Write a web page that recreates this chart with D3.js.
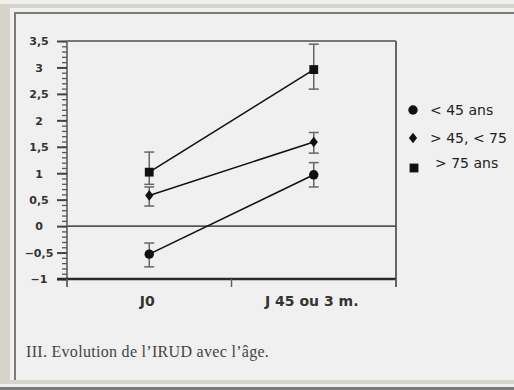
<!DOCTYPE html>
<html>
<head>
<meta charset="utf-8">
<script src="https://cdn.jsdelivr.net/npm/d3@7"></script>
<style>
  html, body { margin: 0; padding: 0; background: #efefee; }
  svg { display: block; }
</style>
</head>
<body>
<div id="chart"></div>
<script>

// data
var categories = ["J0", "J 45 ou 3 m."];
var seriesNames = ["< 45 ans", "> 45, < 75", "> 75 ans"];
var seriesShapes = ["circle", "diamond", "square"];
var meanValues = [[-0.53, 0.97], [0.58, 1.59], [1.02, 2.96]];
var upperValues = [[-0.32, 1.20], [0.74, 1.77], [1.40, 3.44]];
var lowerValues = [[-0.77, 0.74], [0.38, 1.38], [0.79, 2.59]];
var yTicks = [-1, -0.5, 0, 0.5, 1, 1.5, 2, 2.5, 3, 3.5];
var caption = "III. Evolution de l\u2019IRUD avec l\u2019\u00e2ge.";

var W = 514, H = 390;

var svg = d3.select("#chart").append("svg")
    .attr("width", W)
    .attr("height", H);

// page frame (scanned page look)
svg.append("rect").attr("x", 0).attr("y", 0).attr("width", W).attr("height", H).attr("fill", "#d6d3cb");
svg.append("rect").attr("x", 0).attr("y", 0).attr("width", W).attr("height", 4).attr("fill", "#efefee");
svg.append("rect").attr("x", 10).attr("y", 8).attr("width", W - 10).attr("height", 372).attr("fill", "#efefee");
svg.append("rect").attr("x", 0).attr("y", 384).attr("width", W).attr("height", 3).attr("fill", "#efefee");
svg.append("rect").attr("x", 14).attr("y", 12).attr("width", W - 14).attr("height", 368).attr("fill", "#7a7a7a");
svg.append("rect").attr("x", 16).attr("y", 14).attr("width", W - 16).attr("height", 366).attr("fill", "#f0f0f0");
svg.append("rect").attr("x", 0).attr("y", 387).attr("width", W).attr("height", 3).attr("fill", "#7a7a7a");

var x = d3.scaleBand().domain(categories).range([67, 396]);
var y = d3.scaleLinear().domain([-1, 3.5]).range([279, 41]);

var fmt = d3.formatLocale({decimal: ",", thousands: " ", grouping: [3], currency: ["", " €"]}).format("~g");

// minor ticks every 0.1
var minor = d3.range(-10, 36).map(function(d) { return d / 10; });
svg.append("g")
    .attr("transform", "translate(67,0)")
    .call(d3.axisLeft(y).tickValues(minor).tickSize(5).tickFormat(""))
    .call(function(g) {
        g.select(".domain").remove();
        g.selectAll("line").attr("stroke", "#555").attr("stroke-width", 1.3);
    });

var yAxis = svg.append("g")
    .attr("transform", "translate(67,0)")
    .call(d3.axisLeft(y).tickValues(yTicks).tickSize(10).tickPadding(0).tickFormat(fmt));
yAxis.select(".domain").attr("stroke", "#555").attr("stroke-width", 1.5)
    .attr("d", "M0," + y(3.5) + "V" + (y(-1) + 8));
yAxis.selectAll("line").attr("stroke", "#444").attr("stroke-width", 2);
yAxis.selectAll("text")
    .attr("x", -28)
    .attr("text-anchor", "middle")
    .attr("dy", "0.35em")
    .attr("fill", "#333")
    .style("font-family", "DejaVu Sans")
    .style("font-weight", "bold")
    .style("font-size", "11px");

// frame: top, right, zero line, bottom axis
svg.append("line").attr("x1", 67).attr("x2", 396).attr("y1", y(3.5)).attr("y2", y(3.5))
    .attr("stroke", "#777").attr("stroke-width", 2);
svg.append("line").attr("x1", 396).attr("x2", 396).attr("y1", y(3.5)).attr("y2", y(-1) + 8)
    .attr("stroke", "#666").attr("stroke-width", 2);
svg.append("line").attr("x1", 67).attr("x2", 396).attr("y1", y(0)).attr("y2", y(0))
    .attr("stroke", "#555").attr("stroke-width", 1.6);
svg.append("line").attr("x1", 57).attr("x2", 396).attr("y1", y(-1)).attr("y2", y(-1))
    .attr("stroke", "#2a2a2a").attr("stroke-width", 2.5);

// x ticks at band edges
var edges = categories.map(function(c) { return x(c); }).concat([x.range()[1]]);
svg.selectAll(".xtick").data(edges).enter().append("line")
    .attr("class", "xtick")
    .attr("x1", function(d) { return d; }).attr("x2", function(d) { return d; })
    .attr("y1", y(-1)).attr("y2", y(-1) + 8)
    .attr("stroke", "#666").attr("stroke-width", 1.5);

svg.selectAll(".xlabel").data(categories).enter().append("text")
    .attr("class", "xlabel")
    .attr("x", function(d) { return x(d) + x.bandwidth() / 2 - 2; })
    .attr("y", 306)
    .attr("text-anchor", "middle")
    .attr("fill", "#333")
    .style("font-family", "DejaVu Sans")
    .style("font-weight", "bold")
    .style("font-size", "14px")
    .text(function(d) { return d; });

var cx = function(i) { return x(categories[i]) + x.bandwidth() / 2; };

// error bars
meanValues.forEach(function(vals, s) {
    var g = svg.append("g");
    vals.forEach(function(v, i) {
        var px = cx(i), hi = y(upperValues[s][i]), lo = y(lowerValues[s][i]);
        g.append("line").attr("x1", px).attr("x2", px).attr("y1", hi).attr("y2", lo)
            .attr("stroke", "#666").attr("stroke-width", 1.5);
        [hi, lo].forEach(function(yy) {
            g.append("line").attr("x1", px - 5).attr("x2", px + 5).attr("y1", yy).attr("y2", yy)
                .attr("stroke", "#666").attr("stroke-width", 1.5);
        });
    });
});

// lines
var line = d3.line()
    .x(function(d, i) { return cx(i); })
    .y(function(d) { return y(d); });

svg.selectAll(".series").data(meanValues).enter().append("path")
    .attr("class", "series")
    .attr("d", line)
    .attr("fill", "none")
    .attr("stroke", "#111")
    .attr("stroke-width", 1.6);

var symbolOf = {
    circle: d3.symbol().type(d3.symbolCircle).size(70),
    diamond: d3.symbol().type(d3.symbolDiamond2).size(60),
    square: d3.symbol().type(d3.symbolSquare).size(78)
};
// the scanned diamond is a bit taller than wide
var shapeScale = function(s) { return seriesShapes[s] === "diamond" ? " scale(0.85,1.1)" : ""; };

meanValues.forEach(function(vals, s) {
    svg.selectAll(".pt" + s).data(vals).enter().append("path")
        .attr("transform", function(d, i) { return "translate(" + cx(i) + "," + y(d) + ")" + shapeScale(s); })
        .attr("d", symbolOf[seriesShapes[s]]())
        .attr("fill", "#111");
});

// legend
var legend = svg.append("g").attr("transform", "translate(413,110)");
var rows = legend.selectAll(".row").data(seriesNames).enter().append("g")
    .attr("transform", function(d, i) { return "translate(0," + (i * 28) + ")"; });
rows.append("path")
    .attr("d", function(d, i) { return symbolOf[seriesShapes[i]](); })
    .attr("transform", function(d, i) { return (i === 2 ? "translate(1,2)" : "translate(0,0)") + shapeScale(i); })
    .attr("fill", "#111");
rows.append("text")
    .attr("x", function(d, i) { return i === 2 ? 22 : 17; })
    .attr("y", function(d, i) { return i === 2 ? 2 : 5; })
    .attr("fill", "#222")
    .style("font-family", "DejaVu Sans")
    .style("font-size", "14px")
    .text(function(d) { return d; });

// caption
svg.append("text")
    .attr("x", 26)
    .attr("y", 357)
    .attr("fill", "#444")
    .style("font-family", "Liberation Serif")
    .style("font-size", "16px")
    .style("letter-spacing", "0.3px")
    .text(caption);

</script>
</body>
</html>
